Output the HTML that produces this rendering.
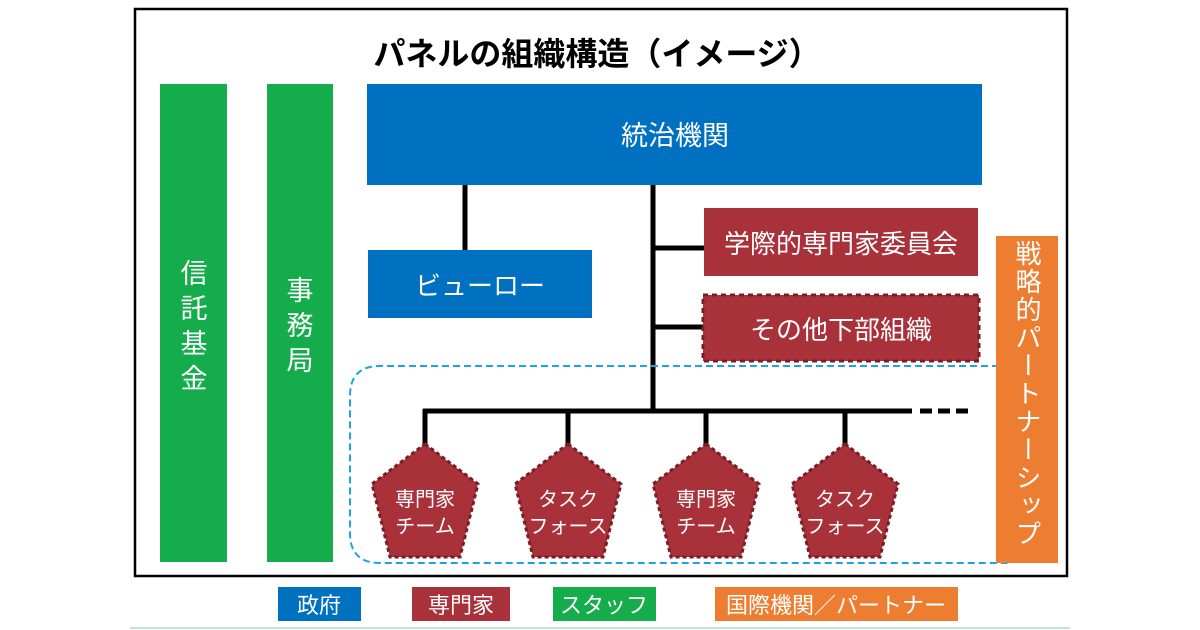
<!DOCTYPE html>
<html><head><meta charset="utf-8"><style>
html,body{margin:0;padding:0;background:#fff}
svg{display:block}
text{font-family:"Liberation Sans","Noto Sans CJK JP",sans-serif}
.vt{position:absolute;left:996px;top:240px;width:62px;height:323px;writing-mode:vertical-rl;font-family:"Liberation Sans","Noto Sans CJK JP",sans-serif;font-size:26px;line-height:62px;color:#fff;letter-spacing:2px;text-align:start}
</style></head><body>
<div style="position:relative;width:1200px;height:630px">
<svg width="1200" height="630" viewBox="0 0 1200 630" xmlns="http://www.w3.org/2000/svg">
<rect x="0" y="0" width="1200" height="630" fill="#fff"/>
<rect x="135" y="9" width="932" height="567" fill="#fff" stroke="#000" stroke-width="2.5"/>
<line x1="130" y1="628" x2="1070" y2="628" stroke="#bfe3d5" stroke-width="2"/>
<text x="597" y="65" font-size="32" font-weight="bold" text-anchor="middle" fill="#000">パネルの組織構造（イメージ）</text>

<rect x="160" y="84" width="67" height="478" fill="#15ad4c"/>
<rect x="267" y="84" width="66" height="478" fill="#15ad4c"/>
<text font-size="27" fill="#fff" text-anchor="middle"><tspan x="194" y="283">信</tspan><tspan x="194" y="318">託</tspan><tspan x="194" y="353">基</tspan><tspan x="194" y="388">金</tspan></text>
<text font-size="27" fill="#fff" text-anchor="middle"><tspan x="300" y="300">事</tspan><tspan x="300" y="335">務</tspan><tspan x="300" y="370">局</tspan></text>

<g stroke="#000" stroke-width="5" fill="none">
<line x1="465" y1="185" x2="465" y2="250"/>
<line x1="653" y1="185" x2="653" y2="413"/>
<line x1="653" y1="248" x2="705" y2="248"/>
<line x1="653" y1="327" x2="705" y2="327"/>
<line x1="423" y1="411" x2="912" y2="411"/>
<line x1="425" y1="409" x2="425" y2="448"/>
<line x1="568" y1="411" x2="568" y2="445"/>
<line x1="706" y1="411" x2="706" y2="445"/>
<line x1="845" y1="411" x2="845" y2="445"/>
<line x1="920" y1="411" x2="972" y2="411" stroke-dasharray="12,6"/>
</g>

<rect x="367" y="84" width="615" height="101" fill="#0070c0"/>
<text x="675" y="145" font-size="27" fill="#fff" text-anchor="middle">統治機関</text>
<rect x="368" y="250" width="224" height="68" fill="#0070c0"/>
<text x="480" y="295" font-size="26" fill="#fff" text-anchor="middle">ビューロー</text>

<rect x="704" y="208" width="274" height="68" fill="#a8313a"/>
<text x="841" y="253" font-size="26" fill="#fff" text-anchor="middle">学際的専門家委員会</text>
<rect x="703" y="295" width="276" height="66" fill="#a8313a" stroke="#7a1d25" stroke-width="3" stroke-dasharray="5,4"/>
<text x="841" y="339" font-size="26" fill="#fff" text-anchor="middle">その他下部組織</text>

<path d="M1010 366 H380 Q350 366 350 396 V533 Q350 563 380 563 H1010" fill="none" stroke="#1aa3e8" stroke-width="2" stroke-dasharray="7,4"/>

<g fill="#a8313a" stroke="#7a1d25" stroke-width="3" stroke-dasharray="4,3">
<polygon points="425,444 478,484 460,557 390,557 372,484"/>
<polygon points="568,444 621,484 603,557 533,557 515,484"/>
<polygon points="706,444 759,484 741,557 671,557 653,484"/>
<polygon points="845,444 898,484 880,557 810,557 792,484"/>
</g>
<g font-size="20" fill="#fff" text-anchor="middle">
<text x="425" y="506">専門家</text><text x="425" y="533">チーム</text>
<text x="568" y="506">タスク</text><text x="568" y="533">フォース</text>
<text x="706" y="506">専門家</text><text x="706" y="533">チーム</text>
<text x="845" y="506">タスク</text><text x="845" y="533">フォース</text>
</g>

<rect x="996" y="236" width="62" height="327" fill="#ed7d31"/>

<rect x="278" y="587" width="83" height="34" fill="#0070c0"/>
<text x="319" y="613" font-size="22" fill="#fff" text-anchor="middle">政府</text>
<rect x="412" y="587" width="98" height="34" fill="#a8313a"/>
<text x="461" y="613" font-size="22" fill="#fff" text-anchor="middle">専門家</text>
<rect x="553" y="587" width="103" height="34" fill="#15ad4c"/>
<text x="604" y="613" font-size="22" fill="#fff" text-anchor="middle">スタッフ</text>
<rect x="715" y="587" width="243" height="34" fill="#ed7d31"/>
<text x="836" y="613" font-size="22" fill="#fff" text-anchor="middle">国際機関／パートナー</text>
</svg>
<div class="vt">戦略的パートナーシップ</div>
</div>
</body></html>
